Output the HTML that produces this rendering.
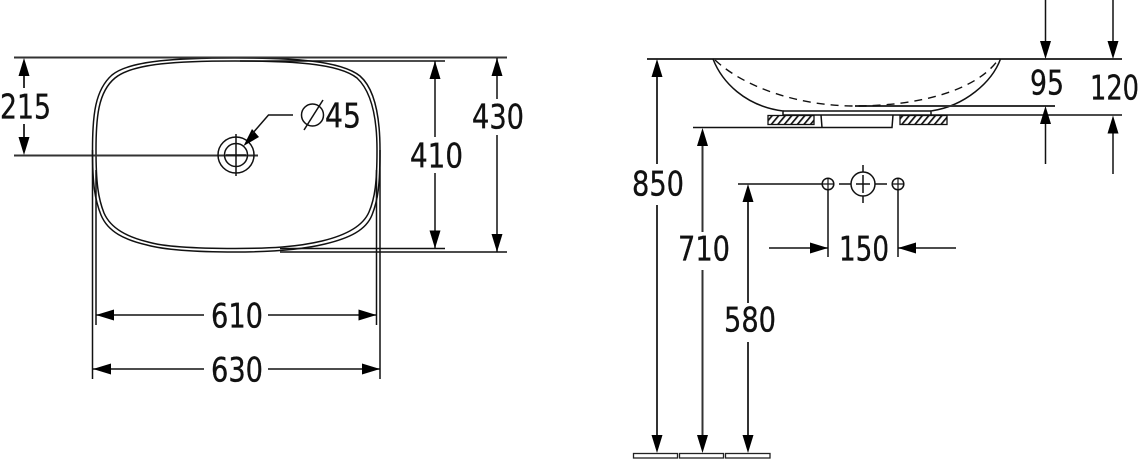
<!DOCTYPE html>
<html><head><meta charset="utf-8"><style>
html,body{margin:0;padding:0;background:#fff;width:1140px;height:460px;overflow:hidden}
svg{display:block}
text{font-family:"DejaVu Sans","Liberation Sans",sans-serif;font-size:34px;fill:#111;stroke:#111;stroke-width:.35}
.t{fill:none;stroke:#111;stroke-width:1.2}
.m{fill:none;stroke:#111;stroke-width:1.5}
.k{fill:none;stroke:#333;stroke-width:2}
</style></head><body>
<svg width="1140" height="460" viewBox="0 0 1140 460" xmlns="http://www.w3.org/2000/svg">
<defs>
<path id="u" d="M0 0L-5.500 18L5.500 18Z" fill="#000"/>
<path id="d" d="M0 0L-5.500 -18L5.500 -18Z" fill="#000"/>
<path id="l" d="M0 0L18 -5.500L18 5.500Z" fill="#000"/>
<path id="r" d="M0 0L-18 -5.500L-18 5.500Z" fill="#000"/>
<pattern id="h" width="5" height="5" patternUnits="userSpaceOnUse" patternTransform="rotate(-50)"><rect width="5" height="5" fill="#fff"/><rect width="5" height="1.700" fill="#111"/></pattern>
</defs>
<!-- plan basin -->
<path class="m" d="M235 58C290 58 340 60 360 76C376 90 380 120 380 150C380 185 378 200 372 215C366 230 350 238 325 244C300 250 270 252 235 252C200 252 165 250 147 245C125 240 108 232 101 215C95 200 92.500 185 92.500 150C92.500 115 95 90 112 75C130 60 180 58 235 58Z"/>
<path class="m" d="M235 61C290 61 338 63 357 78C372 92 377 120 377 150C377 182 375 198 369 212C363 226 347 235 322 241C297 247 270 248.500 235 248.500C200 248.500 165 247 148 242C128 237 111 229 104 213C98 198 96 182 96 150C96 118 98 92 115 78C133 63 180 61 235 61Z"/>
<!-- plan extension lines -->
<path class="k" d="M14 57.500H507M14 155.500H258"/>
<path class="m" d="M240 61H445M280 248.500H445M280 252H507"/>
<path class="m" d="M92.500 150V379M96 170V325M376.500 170V325M380 150V379"/>
<!-- 215 -->
<path class="k" d="M24 70V88M24 124V142"/>
<use href="#u" x="24" y="58"/><use href="#d" x="24" y="155"/>
<text x="0" y="118.500" textLength="51" lengthAdjust="spacingAndGlyphs">215</text>
<!-- hole -->
<circle class="m" cx="236" cy="155" r="18"/><circle class="m" cx="236" cy="155" r="11.500"/>
<path class="m" d="M236 134V176M226 155H246"/>
<path d="M243.500 146L252 129L259 137Z" fill="#000"/>
<path class="m" d="M252 134L268.500 115H293"/>
<text x="325" y="127.500" textLength="36" lengthAdjust="spacingAndGlyphs">45</text>
<circle class="m" cx="312.500" cy="115" r="11"/><path class="m" d="M304 130L323 100"/>
<!-- 410 / 430 -->
<path class="m" d="M435 61V137M435 173V248"/>
<use href="#u" x="435" y="61"/><use href="#d" x="435" y="248.500"/>
<text x="410" y="167.500" textLength="53" lengthAdjust="spacingAndGlyphs">410</text>
<path class="m" d="M497 58V99M497 135V252"/>
<use href="#u" x="497" y="58"/><use href="#d" x="497" y="252"/>
<text x="472" y="128.500" textLength="52" lengthAdjust="spacingAndGlyphs">430</text>
<!-- 610 / 630 -->
<path class="m" d="M96 315H204M268 315H376"/>
<use href="#l" x="96" y="315"/><use href="#r" x="376.500" y="315"/>
<text x="211" y="327.500" textLength="52" lengthAdjust="spacingAndGlyphs">610</text>
<path class="m" d="M93 369H204M268 369H380"/>
<use href="#l" x="93" y="369"/><use href="#r" x="380" y="369"/>
<text x="211" y="381.500" textLength="52" lengthAdjust="spacingAndGlyphs">630</text>
<!-- side view -->
<path class="k" d="M647 59H1122"/>
<path class="m" d="M713 59C722 82 745 106 783 111V115"/>
<path class="m" d="M1000.500 59C992 82 965 106 931 111V115"/>
<path class="m" d="M783 111H931"/>
<path class="m" d="M783 115H1122"/>
<path class="k" d="M855 106H1055"/>
<path fill="none" stroke="#111" stroke-width="1.400" stroke-dasharray="8 6" d="M715 60C745 88 800 106 855 106C915 106 975 92 998 60"/>
<rect x="768" y="115.500" width="46" height="9" fill="url(#h)" stroke="#111" stroke-width="1.300"/>
<rect x="900" y="115.500" width="47" height="9" fill="url(#h)" stroke="#111" stroke-width="1.300"/>
<path class="m" d="M693 127.500H892L893 115M821 115L822 127.500"/>
<!-- 95 / 120 -->
<path class="m" d="M1045.500 0V44M1045.500 120V164M1113 0V44M1113 130V174"/>
<use href="#d" x="1045.500" y="59"/><use href="#u" x="1045.500" y="106"/>
<use href="#d" x="1113" y="59"/><use href="#u" x="1113" y="115.500"/>
<text x="1030" y="94.500" textLength="34" lengthAdjust="spacingAndGlyphs">95</text>
<text x="1090" y="99.500" textLength="49" lengthAdjust="spacingAndGlyphs">120</text>
<!-- height dims -->
<path class="k" d="M657 70V164M657 205V440M702.500 140V232M702.500 270V440M748 196V303M748 342V440"/>
<use href="#u" x="657" y="59"/><use href="#u" x="702.500" y="128"/><use href="#u" x="748" y="184"/>
<use href="#d" x="657" y="453"/><use href="#d" x="702.500" y="453"/><use href="#d" x="748" y="453"/>
<text x="632" y="195.500" textLength="52" lengthAdjust="spacingAndGlyphs">850</text>
<text x="678" y="260.500" textLength="52" lengthAdjust="spacingAndGlyphs">710</text>
<text x="724" y="331.500" textLength="52" lengthAdjust="spacingAndGlyphs">580</text>
<rect x="633.500" y="453.500" width="44" height="4.500" fill="#fff" stroke="#222" stroke-width="1.300"/>
<rect x="679.500" y="453.500" width="44" height="4.500" fill="#fff" stroke="#222" stroke-width="1.300"/>
<rect x="725.500" y="453.500" width="44.500" height="4.500" fill="#fff" stroke="#222" stroke-width="1.300"/>
<!-- holes -->
<path class="m" d="M738 184H822"/>
<circle class="m" cx="828" cy="184" r="5.800"/><path class="t" d="M822 184H834M828 178V190"/>
<circle class="m" cx="863" cy="184" r="12"/><path class="m" d="M839 184H851M875 184H887M863 165V172M863 175V193M863 196V203M856 184H870"/>
<circle class="m" cx="898" cy="184" r="5.800"/><path class="t" d="M892 184H904M898 178V190"/>
<path class="m" d="M828 190V257M898 190V257"/>
<path class="m" d="M769 248H828M898 248H956"/>
<use href="#r" x="828" y="248"/><use href="#l" x="898" y="248"/>
<text x="839" y="260.500" textLength="50" lengthAdjust="spacingAndGlyphs">150</text>
</svg>
</body></html>
